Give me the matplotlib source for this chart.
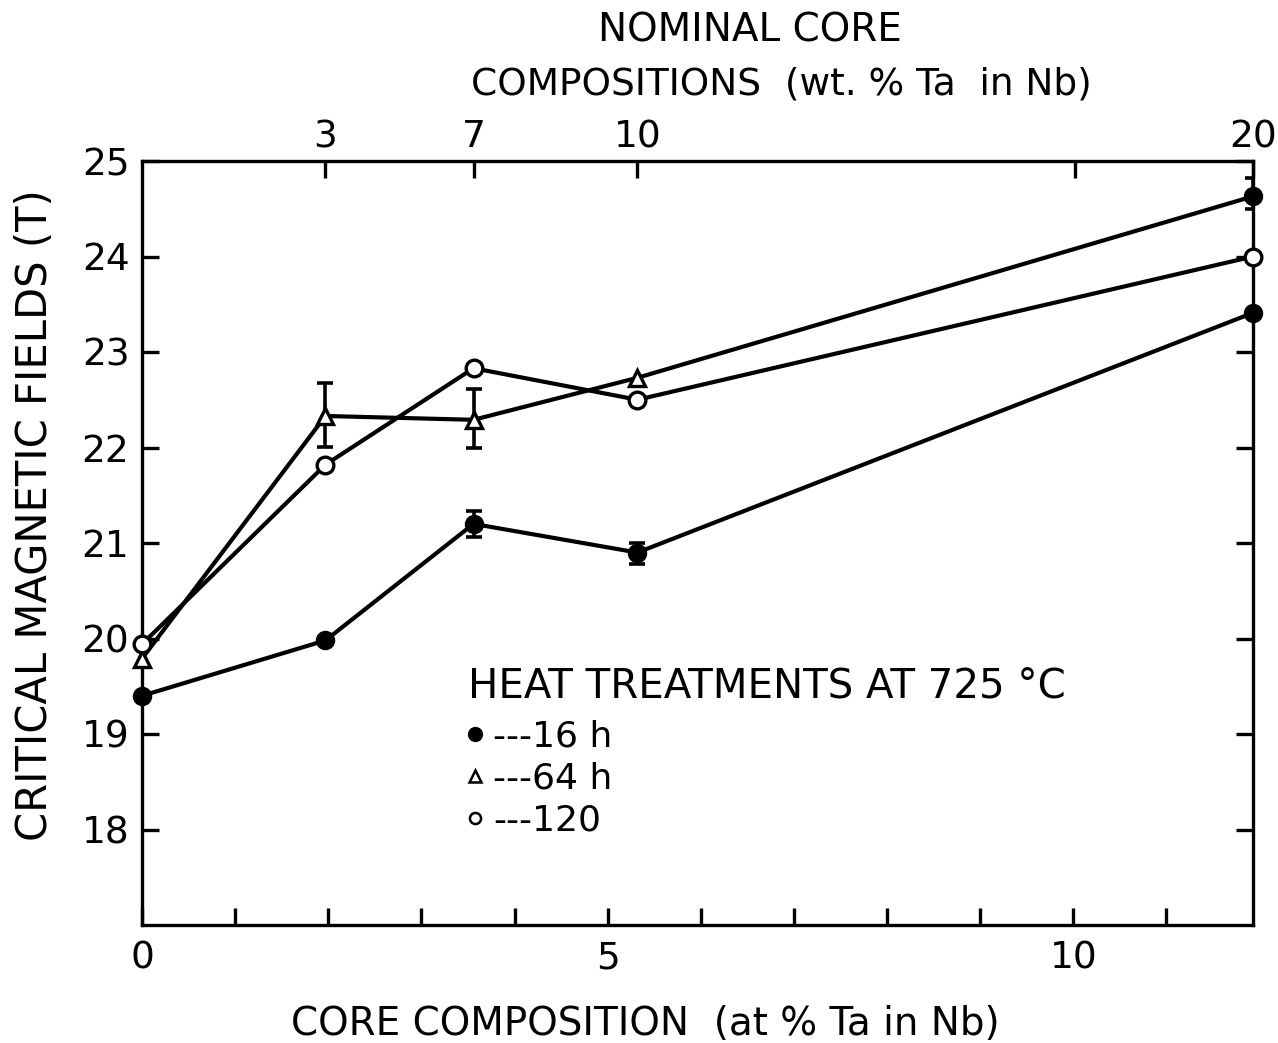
import numpy as np
import matplotlib
matplotlib.use("Agg")
import matplotlib.pyplot as plt
from matplotlib.lines import Line2D

# ---- data ----
x_at = [0.0, 1.97, 3.56, 5.32, 11.93]          # at % Ta in Nb
h16 = [19.40, 19.98, 21.20, 20.90, 23.41]
h64 = [19.79, 22.33, 22.29, 22.73, 24.63]
h120 = [19.94, 21.82, 22.83, 22.50, 24.00]

# error bars (x, low, high)
err_x = [1.97, 3.56, 3.56, 5.32, 11.93]
err_lo = [22.01, 22.00, 21.06, 20.78, 24.50]
err_hi = [22.68, 22.61, 21.33, 21.00, 24.82]

# nominal compositions (top axis)
top_pos = [1.97, 3.56, 5.32, 10.02, 11.93]
top_lab = ['3', '7', '10', '', '20']

plt.rcParams['font.family'] = ['DejaVu Sans']
LW = 3.0

fig = plt.figure(figsize=(12.78, 10.43), dpi=100)
ax = fig.add_axes([142/1278, 118/1043, 1111/1278, 764/1043])

# error bars first, markers on top
mid = (np.array(err_lo) + np.array(err_hi)) / 2
half = (np.array(err_hi) - np.array(err_lo)) / 2
ax.errorbar(err_x, mid, yerr=half, fmt='none', ecolor='black',
            elinewidth=2.6, capsize=6, capthick=2.6, zorder=2)

ax.plot(x_at, h16, '-', color='black', lw=LW, marker='o', ms=13,
        mfc='black', mec='black', zorder=3, clip_on=False)
ax.plot(x_at, h64, '-', color='black', lw=LW, zorder=3, clip_on=False)
ax.plot(x_at[:4], h64[:4], linestyle='none', marker='^', ms=12,
        mfc='white', mec='black', mew=2.4, zorder=4, clip_on=False)
ax.plot(x_at[4:], h64[4:], linestyle='none', marker='o', ms=13,
        mfc='black', mec='black', zorder=4, clip_on=False)
ax.plot(x_at, h120, '-', color='black', lw=LW, marker='o', ms=12,
        mfc='white', mec='black', mew=2.4, zorder=5, clip_on=False)

ax.set_xlim(0, 11.93)
ax.set_ylim(17, 25)

for s in ax.spines.values():
    s.set_linewidth(2.4)

ax.set_xticks([0, 5, 10])
ax.set_xticklabels(['0', '5', '10'])
ax.set_xticks([1, 2, 3, 4, 6, 7, 8, 9, 11], minor=True)
ax.set_yticks(range(18, 26))
ax.tick_params(axis='both', which='both', direction='in', length=12,
               width=2.4, labelsize=27)
ax.tick_params(axis='x', which='both', pad=11, top=False)
ax.tick_params(axis='y', which='both', pad=9, right=True)

ax.set_xlabel('CORE COMPOSITION  (at % Ta in Nb)', fontsize=28)
ax.xaxis.set_label_coords(0.453, -0.105)
ax.set_ylabel('CRITICAL MAGNETIC FIELDS (T)', fontsize=30)
ax.yaxis.set_label_coords(-0.096, 0.537)
ax.yaxis.label.set_va('center')

top = ax.twiny()
top.set_xlim(ax.get_xlim())
top.set_xticks(top_pos)
top.set_xticklabels(top_lab)
top.tick_params(axis='x', direction='in', length=12, width=2.4,
                labelsize=27, pad=4)
for s in top.spines.values():
    s.set_visible(False)

fig.text(750/1278, 1 - 30/1043, 'NOMINAL CORE', ha='center', va='center',
         fontsize=28)
fig.text(781/1278, 1 - 85/1043, 'COMPOSITIONS  (wt. % Ta  in Nb)',
         ha='center', va='center', fontsize=27)

handles = [
    Line2D([], [], linestyle='none', marker='o', ms=10, mfc='black', mec='black'),
    Line2D([], [], linestyle='none', marker='^', ms=8, mfc='white', mec='black', mew=1.8),
    Line2D([], [], linestyle='none', marker='o', ms=8, mfc='white', mec='black', mew=1.8),
]
leg = ax.legend(handles, ['---16 h', '---64 h', '---120'],
                title='HEAT TREATMENTS AT 725 °C', loc='upper left',
                bbox_to_anchor=(0.28, 0.35), frameon=False, fontsize=26,
                title_fontsize=29, alignment='left', handlelength=0.4,
                handletextpad=0.3, labelspacing=0.22, borderaxespad=0)
leg.get_title().set_y(6)

fig.savefig('out.png', dpi=100)
